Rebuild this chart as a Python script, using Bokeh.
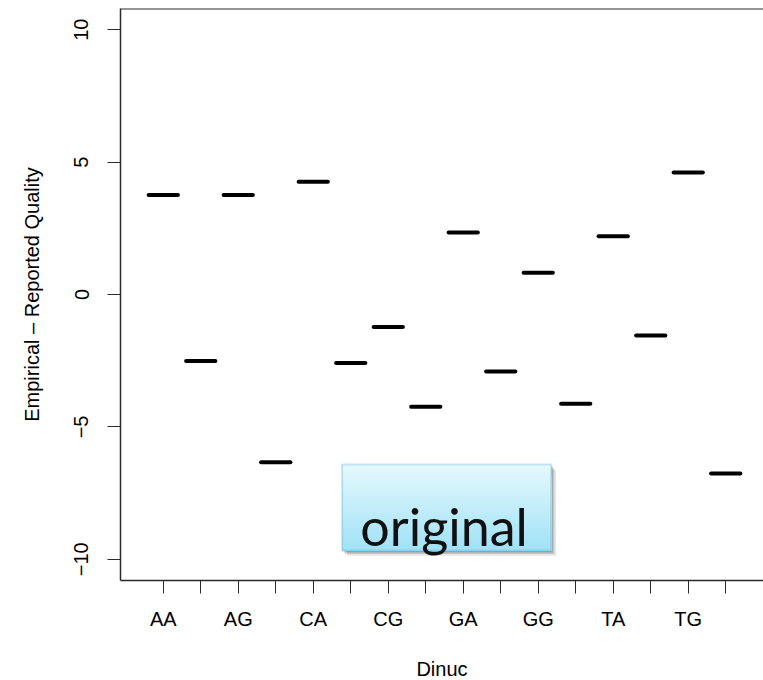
import numpy as np
from bokeh.plotting import figure
from bokeh.models import FixedTicker, Span, BoxAnnotation, Label
from bokeh.embed import file_html
from bokeh.resources import INLINE

# Dinucleotide contexts and their empirical minus reported quality
dinuc = ["AA", "AC", "AG", "AT", "CA", "CC", "CG", "CT",
         "GA", "GC", "GG", "GT", "TA", "TC", "TG", "TT"]
quality_diff = [3.76, -2.51, 3.76, -6.33, 4.26, -2.59, -1.23, -4.24,
                2.34, -2.91, 0.82, -4.13, 2.20, -1.55, 4.61, -6.76]
y_ticks = [-10, -5, 0, 5, 10]

FONT = "Liberation Sans"
AXIS_COL = "#2a2a2a"

x = np.arange(1, len(dinuc) + 1)
y = np.array(quality_diff)

p = figure(frame_width=643, frame_height=572,
           x_range=(-0.14, 17.007), y_range=(-10.8, 10.8),
           output_backend="svg", toolbar_location=None,
           min_border_left=120, min_border_right=0,
           min_border_top=8, min_border_bottom=100)

p.background_fill_color = "white"
p.border_fill_color = "white"
p.outline_line_color = None
p.xgrid.visible = False
p.ygrid.visible = False

# median marks, one per dinucleotide
half = 0.39
p.segment(x0=x - half, x1=x + half, y0=y, y1=y,
          line_color="black", line_width=4, line_cap="round")

# x axis: every context gets a tick, every other one a label
xa = p.xaxis[0]
xa.ticker = FixedTicker(ticks=list(x))
xa.major_label_overrides = {int(i): (d if k % 2 == 0 else "")
                            for k, (i, d) in enumerate(zip(x, dinuc))}
xa.minor_tick_line_color = None
xa.major_tick_in = 0
xa.major_tick_out = 13
xa.major_tick_line_color = AXIS_COL
xa.axis_line_color = AXIS_COL
xa.axis_line_width = 1.5
xa.major_label_text_font = FONT
xa.major_label_text_font_size = "20px"
xa.major_label_text_color = "black"
xa.major_label_standoff = 14
xa.axis_label = "Dinuc"
xa.axis_label_text_font = FONT
xa.axis_label_text_font_size = "20px"
xa.axis_label_text_font_style = "normal"
xa.axis_label_text_color = "black"
xa.axis_label_standoff = 25

ya = p.yaxis[0]
ya.ticker = FixedTicker(ticks=y_ticks)
ya.major_label_overrides = {t: ("\u2212" + str(-t) if t < 0 else str(t)) for t in y_ticks}
ya.minor_tick_line_color = None
ya.major_tick_in = 0
ya.major_tick_out = 13
ya.major_tick_line_color = AXIS_COL
ya.axis_line_color = AXIS_COL
ya.axis_line_width = 1.5
ya.major_label_orientation = "vertical"
ya.major_label_text_font = FONT
ya.major_label_text_font_size = "20px"
ya.major_label_text_color = "black"
ya.major_label_standoff = 19
ya.axis_label = "Empirical \u2013 Reported Quality"
ya.axis_label_text_font = FONT
ya.axis_label_text_font_size = "20px"
ya.axis_label_text_font_style = "normal"
ya.axis_label_text_color = "black"
ya.axis_label_standoff = 29

# top edge of the plot box
p.add_layout(Span(location=10.8, dimension="width",
                  line_color=AXIS_COL, line_width=2))

# "original" tag box: soft shadow, vertical gradient, teal border
bx0, bx1 = 5.77, 11.345
by0, by1 = -9.67, -6.42
for dx, dy, a in [(0.13, -0.2, 0.10), (0.08, -0.13, 0.14), (0.04, -0.07, 0.18)]:
    p.add_layout(BoxAnnotation(left=bx0 + dx, right=bx1 + dx,
                               bottom=by0 + dy, top=by1 + dy,
                               fill_color="black", fill_alpha=a,
                               line_color=None, level="overlay"))

# gradient: each step covers from its own top down to the box bottom,
# so later steps paint over earlier ones without seams
top_rgb = np.array([230, 248, 253])
bot_rgb = np.array([160, 226, 247])
n_band = 40
edges = np.linspace(by1, by0, n_band + 1)
for i in range(n_band):
    t = (i + 0.5) / n_band
    c = (top_rgb * (1 - t) + bot_rgb * t).round().astype(int)
    p.add_layout(BoxAnnotation(left=bx0, right=bx1,
                               top=edges[i], bottom=by0,
                               fill_color="#%02x%02x%02x" % tuple(c), fill_alpha=1.0,
                               line_color=None, level="overlay"))
p.add_layout(BoxAnnotation(left=bx0, right=bx1, bottom=by0, top=by1,
                           fill_alpha=0, line_color="#4db0cc", line_width=2,
                           level="overlay"))
p.add_layout(Label(x=8.49, y=-8.76, text="original",
                   text_font="Lato", text_font_size="52px",
                   text_color="#111111", text_align="center",
                   text_baseline="alphabetic", level="overlay"))

open("out.html", "w").write(file_html(p, INLINE))
